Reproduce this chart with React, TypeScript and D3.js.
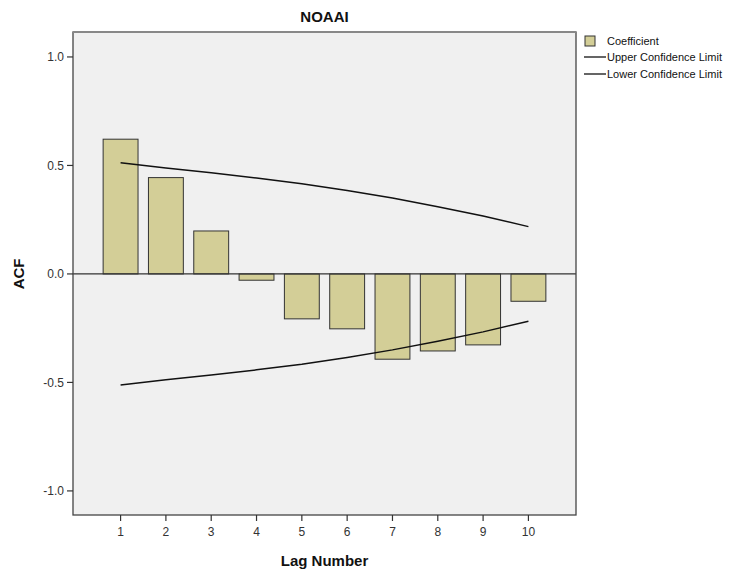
import React from 'react';
import * as d3 from 'd3';

// constants
const width = 748;
const height = 571;
const margin = { top: 32, right: 172, bottom: 56, left: 73 };
const innerWidth = width - margin.left - margin.right;
const innerHeight = height - margin.top - margin.bottom;

// data
const lags = [1, 2, 3, 4, 5, 6, 7, 8, 9, 10];
const coefficients = [0.621, 0.444, 0.198, -0.029, -0.207, -0.253, -0.393, -0.355, -0.327, -0.126];
const upperLimit = [0.512, 0.488, 0.466, 0.442, 0.416, 0.385, 0.35, 0.31, 0.267, 0.218];
const lowerLimit = [-0.512, -0.488, -0.466, -0.442, -0.416, -0.385, -0.35, -0.31, -0.267, -0.218];
const yTicks = [-1.0, -0.5, 0.0, 0.5, 1.0];

const font = 'Arial, "Liberation Sans", sans-serif';
const barFill = '#d3ce97';

const App = () => {
  // scales
  const x = d3.scaleLinear().domain([-0.05, 11.05]).range([0, innerWidth]);
  const y = d3.scaleLinear().domain([-1.111, 1.115]).range([innerHeight, 0]);
  const barWidth = x(1.77) - x(1);

  const line = d3.line<number>()
    .x((d, i) => x(lags[i]))
    .y(d => y(d));

  return (
    <svg width={width} height={height} style={{ display: 'block', position: 'absolute', left: 0, top: 0 }}>
      <rect width={width} height={height} fill="#fff" />
      <text x={margin.left + innerWidth / 2} y={22} textAnchor="middle" fontFamily={font}
        fontWeight="bold" fontSize={15} fill="#111">NOAAI</text>

      <g transform={`translate(${margin.left},${margin.top})`}>
        <rect width={innerWidth} height={innerHeight} fill="#f0f0f0" />

        {/* bars */}
        {coefficients.map((d, i) => (
          <rect key={i}
            x={x(lags[i]) - barWidth / 2}
            y={Math.min(y(d), y(0))}
            width={barWidth}
            height={Math.abs(y(d) - y(0))}
            fill={barFill} stroke="#333" strokeWidth={1} />
        ))}

        {/* zero line */}
        <line x1={0} x2={innerWidth} y1={y(0)} y2={y(0)} stroke="#333" strokeWidth={1.2} />

        {/* confidence limits */}
        <path d={line(upperLimit) || ''} fill="none" stroke="#111" strokeWidth={1.5} />
        <path d={line(lowerLimit) || ''} fill="none" stroke="#111" strokeWidth={1.5} />

        {/* frame */}
        <rect width={innerWidth} height={innerHeight} fill="none" stroke="#444" strokeWidth={1.3} />
        <line x1={0} x2={innerWidth} y1={0} y2={0} stroke="#888" strokeWidth={2} />

        {/* y axis */}
        {yTicks.map(t => (
          <g key={t} transform={`translate(0,${y(t)})`}>
            <line x1={-6} x2={0} stroke="#333" strokeWidth={1.2} />
            <text x={-9} dy="0.35em" textAnchor="end" fontFamily={font} fontSize={12} fill="#333">
              {t.toFixed(1)}
            </text>
          </g>
        ))}

        {/* x axis */}
        {lags.map(t => (
          <g key={t} transform={`translate(${x(t)},${innerHeight})`}>
            <line y1={0} y2={6} stroke="#333" strokeWidth={1.2} />
            <text y={21} textAnchor="middle" fontFamily={font} fontSize={12} fill="#333">{t}</text>
          </g>
        ))}

        <text x={innerWidth / 2} y={innerHeight + 51} textAnchor="middle" fontFamily={font}
          fontWeight="bold" fontSize={15} fill="#111">Lag Number</text>
        <text transform={`translate(-49,${y(0)}) rotate(-90)`} textAnchor="middle" fontFamily={font}
          fontWeight="bold" fontSize={15} fill="#111">ACF</text>
      </g>

      {/* legend */}
      <g fontFamily={font} fontSize={11} fill="#111">
        <rect x={585} y={36} width={10} height={10} fill={barFill} stroke="#333" />
        <text x={607} y={45}>Coefficient</text>
        <line x1={584} x2={606} y1={57} y2={57} stroke="#111" strokeWidth={1.3} />
        <text x={607} y={61}>Upper Confidence Limit</text>
        <line x1={584} x2={606} y1={74} y2={74} stroke="#111" strokeWidth={1.3} />
        <text x={607} y={78}>Lower Confidence Limit</text>
      </g>
    </svg>
  );
};

export default App;
